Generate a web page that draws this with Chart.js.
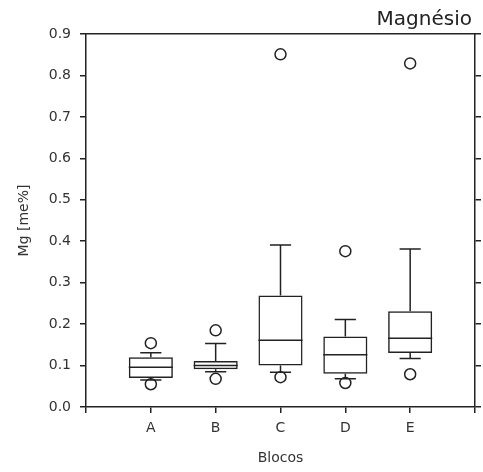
<!DOCTYPE html>
<html>
<head>
<meta charset="utf-8">
<script src="https://cdn.jsdelivr.net/npm/chart.js@4"></script>
<style>
  html, body { margin: 0; padding: 0; background: #fff; }
</style>
</head>
<body>
<canvas id="grafico" width="483" height="472"></canvas>
<script>
// dados (Mg, me%)
const blocos = ['A', 'B', 'C', 'D', 'E'];
const q1 = [0.070, 0.091, 0.100, 0.080, 0.130];
const mediana = [0.096, 0.100, 0.161, 0.126, 0.166];
const q3 = [0.120, 0.111, 0.269, 0.170, 0.231];
const bigodeMin = [0.065, 0.085, 0.084, 0.068, 0.117];
const bigodeMax = [0.131, 0.153, 0.391, 0.211, 0.381];
// valores extremos
const extremoBloco = ['A', 'A', 'B', 'B', 'C', 'C', 'D', 'D', 'E', 'E'];
const extremoValor = [0.154, 0.055, 0.185, 0.068, 0.851, 0.072, 0.376, 0.058, 0.829, 0.079];

const cor = '#222';
const fonte = 'DejaVu Sans';

const caixas = blocos.map((b, i) => ({ x: i + 1, y: [q1[i], q3[i]] }));
const extremos = extremoBloco.map((b, i) => ({ x: blocos.indexOf(b) + 1, y: extremoValor[i] }));

// bigodes e mediana desenhados com as escalas do chart
const bigodes = {
  id: 'bigodes',
  afterDatasetsDraw(chart) {
    const ctx = chart.ctx;
    const xs = chart.scales.x, ys = chart.scales.y;
    const barras = chart.getDatasetMeta(0).data;
    ctx.save();
    ctx.strokeStyle = cor;
    ctx.lineWidth = 1.5;
    blocos.forEach((b, i) => {
      const px = xs.getPixelForValue(i + 1);
      const meia = barras[i].width / 2;
      const cap = meia * 0.48;
      ctx.beginPath();
      ctx.moveTo(px, ys.getPixelForValue(q3[i]));
      ctx.lineTo(px, ys.getPixelForValue(bigodeMax[i]));
      ctx.moveTo(px - cap, ys.getPixelForValue(bigodeMax[i]));
      ctx.lineTo(px + cap, ys.getPixelForValue(bigodeMax[i]));
      ctx.moveTo(px, ys.getPixelForValue(q1[i]));
      ctx.lineTo(px, ys.getPixelForValue(bigodeMin[i]));
      ctx.moveTo(px - cap, ys.getPixelForValue(bigodeMin[i]));
      ctx.lineTo(px + cap, ys.getPixelForValue(bigodeMin[i]));
      ctx.moveTo(px - meia, ys.getPixelForValue(mediana[i]));
      ctx.lineTo(px + meia, ys.getPixelForValue(mediana[i]));
      ctx.stroke();
    });
    ctx.restore();
  },
  afterDraw(chart) {
    const ctx = chart.ctx;
    ctx.save();
    ctx.fillStyle = cor;
    ctx.font = '20px "' + fonte + '"';
    ctx.textAlign = 'right';
    ctx.textBaseline = 'alphabetic';
    ctx.fillText('Magnésio', 472, 25);
    ctx.restore();
  }
};

new Chart(document.getElementById('grafico'), {
  type: 'bar',
  data: {
    datasets: [{
      data: caixas,
      backgroundColor: 'rgba(255,255,255,0)',
      borderColor: cor,
      borderWidth: 1.5,
      borderSkipped: false,
      barPercentage: 0.85,
      categoryPercentage: 0.8
    }, {
      type: 'scatter',
      data: extremos,
      pointStyle: 'circle',
      pointRadius: 5.5,
      pointBorderWidth: 1.5,
      pointBorderColor: cor,
      pointBackgroundColor: 'rgba(255,255,255,0)'
    }]
  },
  options: {
    responsive: false,
    animation: false,
    devicePixelRatio: 1,
    layout: { padding: { top: 34, left: 0, right: 0, bottom: 0 } },
    plugins: { legend: { display: false }, tooltip: { enabled: false } },
    scales: {
      x: {
        type: 'linear', position: 'bottom', min: 0, max: 6, offset: false,
        afterFit: s => { s.height = 65; },
        grid: { offset: false, drawOnChartArea: false, tickLength: 6, color: cor, lineWidth: 1.5 },
        border: { color: cor, width: 1.5 },
        ticks: {
          stepSize: 1, padding: 7, color: '#333', font: { family: fonte, size: 14 },
          callback: v => blocos[v - 1] || ''
        },
        title: { display: true, text: 'Blocos', color: '#333', font: { family: fonte, size: 14 }, padding: { top: 0, bottom: 5 } }
      },
      x2: {
        type: 'linear', position: 'top', min: 0, max: 6, offset: false,
        afterFit: s => { s.height = 0; },
        grid: { offset: false, drawOnChartArea: false, drawTicks: false },
        border: { color: cor, width: 1.5 },
        ticks: { display: false }
      },
      y: {
        type: 'linear', position: 'left', min: 0, max: 0.9,
        afterFit: s => { s.width = 86; },
        grid: { drawOnChartArea: false, tickLength: 6, color: cor, lineWidth: 1.5 },
        border: { color: cor, width: 1.5 },
        ticks: {
          stepSize: 0.1, padding: 9, color: '#333', font: { family: fonte, size: 14 },
          callback: v => v.toFixed(1)
        },
        title: { display: true, text: 'Mg [me%]', color: '#333', font: { family: fonte, size: 14 }, padding: { top: 16, bottom: 0 } }
      },
      y2: {
        type: 'linear', position: 'right', min: 0, max: 0.9,
        afterFit: s => { s.width = 8; },
        grid: { drawOnChartArea: false, tickLength: 6, color: cor, lineWidth: 1.5 },
        border: { color: cor, width: 1.5 },
        ticks: { stepSize: 0.1, callback: () => '' }
      }
    }
  },
  plugins: [bigodes]
});
</script>
</body>
</html>
